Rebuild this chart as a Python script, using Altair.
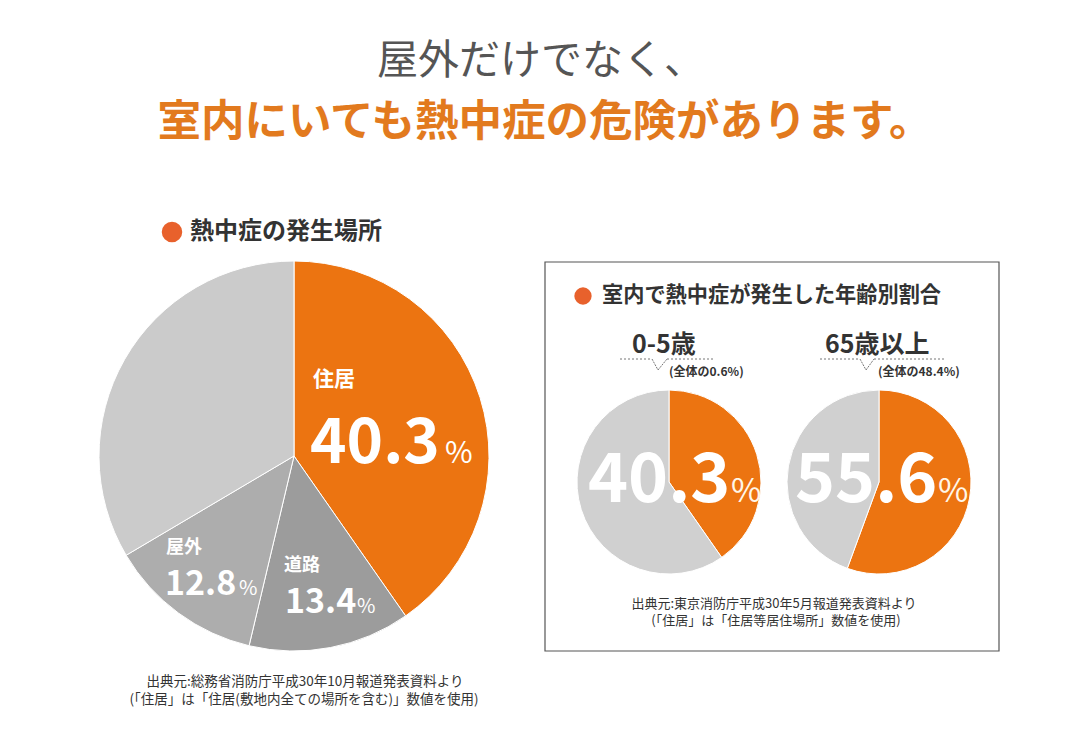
import altair as alt
import pandas as pd

# ---------------- data ----------------
place_names = ["住居", "道路", "屋外", "その他"]
place_share = [40.3, 13.4, 12.8, 33.5]

age_groups = ["0-5歳", "65歳以上"]
indoor_share = [40.3, 55.6]
non_indoor_share = [59.7, 44.4]
overall_share = [0.6, 48.4]

title_line1 = "屋外だけでなく、"
title_line2 = "室内にいても熱中症の危険があります。"
left_heading = "熱中症の発生場所"
right_heading = "室内で熱中症が発生した年齢別割合"
left_source = ["出典元:総務省消防庁平成30年10月報道発表資料より",
               "(「住居」は「住居(敷地内全ての場所を含む)」数値を使用)"]
right_source = ["出典元:東京消防庁平成30年5月報道発表資料より",
                "(「住居」は「住居等居住場所」数値を使用)"]

# ---------------- style ----------------
JP = "Noto Sans CJK JP"
TITLE_ORANGE = "#E27A1E"
DOT = "#E8612C"
place_colors = ["#EC7411", "#9C9C9C", "#ADADAD", "#CBCBCB"]
small_colors = ["#EC7411", "#D0D0D0"]
OFF = 8  # page margin


def X(v):
    return alt.value(v - OFF)


def Y(v):
    return alt.value(v - OFF)


def text(t, x, y, size, color="#333333", weight="bold", align="left",
         baseline="middle", font=JP):
    return alt.Chart(pd.DataFrame({"t": [t]})).mark_text(
        fontSize=size, color=color, fontWeight=weight, align=align,
        baseline=baseline, font=font
    ).encode(text="t:N", x=X(x), y=Y(y))


def pie(names, values, colors, cx, cy, r):
    df = pd.DataFrame({"name": names, "value": values,
                       "idx": list(range(len(names)))})
    return alt.Chart(df).mark_arc(radius=r, stroke="white", strokeWidth=1).encode(
        theta=alt.Theta("value:Q", stack=True),
        color=alt.Color("name:N", scale=alt.Scale(domain=names, range=colors),
                        legend=None),
        order=alt.Order("idx:Q", sort="ascending"),
        x=X(cx), y=Y(cy),
    )


def rule(x1, y1, x2, y2, color="#777777", dash=(2, 2), width=1):
    return alt.Chart(pd.DataFrame({"a": [0]})).mark_rule(
        color=color, strokeDash=list(dash), strokeWidth=width
    ).encode(x=X(x1), x2=X(x2), y=Y(y1), y2=Y(y2))


def dot(x, y, size):
    return alt.Chart(pd.DataFrame({"a": [0]})).mark_circle(
        size=size, color=DOT, opacity=1
    ).encode(x=X(x), y=Y(y))


layers = []

# titles
layers.append(text(title_line1, 541, 62, 41, color="#555555", weight="normal",
                   align="center"))
layers.append(text(title_line2, 545, 123, 43.5, color=TITLE_ORANGE, weight="bold",
                   align="center"))

# left heading
layers.append(dot(172, 232, 420))
layers.append(text(left_heading, 190, 232, 24))

# big pie
layers.append(pie(place_names, place_share, place_colors, 294, 456, 195))

# big pie labels
layers.append(text(place_names[0], 313, 380, 21, color="white"))
layers.append(text(f"{place_share[0]}", 310, 463, 62, color="white",
                   baseline="alphabetic"))
layers.append(text("%", 445, 463, 30, color="white", weight="normal",
                   baseline="alphabetic"))

layers.append(text(place_names[1], 284, 566, 18, color="white"))
layers.append(text(f"{place_share[1]}", 285, 613, 34, color="white",
                   baseline="alphabetic"))
layers.append(text("%", 357, 613, 20, color="white", weight="normal",
                   baseline="alphabetic"))

layers.append(text(place_names[2], 166, 548, 18, color="white"))
layers.append(text(f"{place_share[2]}", 165, 595, 34, color="white",
                   baseline="alphabetic"))
layers.append(text("%", 239, 595, 20, color="white", weight="normal",
                   baseline="alphabetic"))

# left source
layers.append(text(left_source[0], 305, 682, 13.5, align="center", weight="normal"))
layers.append(text(left_source[1], 304, 700, 13.5, align="center", weight="normal"))

# right box
layers.append(alt.Chart(pd.DataFrame({"a": [0]})).mark_rect(
    fill="white", fillOpacity=0, stroke="#555555", strokeWidth=1.2
).encode(x=X(545), x2=X(999), y=Y(262), y2=Y(651)))

layers.append(dot(583, 296, 300))
layers.append(text(right_heading, 602, 296, 21.2))

# age group headings + dashed callouts
centers = [669, 879]
label_x = [632, 825]
dash_specs = [
    (620, 652, 658, 667, 713),
    (820, 860, 866, 874, 946),
]
note_x = [669, 878]
num_x = [588, 795]
pct_x = [731, 938]
for i in range(2):
    layers.append(text(age_groups[i], label_x[i], 345, 25))
    a, b, c, d, e = dash_specs[i]
    layers.append(rule(a, 359, b, 359))
    layers.append(rule(b, 359, c, 370, dash=(2, 1)))
    layers.append(rule(c, 370, d, 359, dash=(2, 1)))
    layers.append(rule(d, 359, e, 359))
    layers.append(text(f"(全体の{overall_share[i]}%)", note_x[i], 372, 12))
    layers.append(pie(["室内", "その他"], [indoor_share[i], non_indoor_share[i]],
                      small_colors, centers[i], 482, 92))
    layers.append(text(f"{indoor_share[i]}", num_x[i], 502, 68, color="white",
                       baseline="alphabetic"))
    layers.append(text("%", pct_x[i], 502, 33, color="#FFF7E8", weight="normal",
                       baseline="alphabetic"))

# right source
layers.append(text(right_source[0], 774, 604, 13, align="center", weight="normal"))
layers.append(text(right_source[1], 776, 621, 13, align="center", weight="normal"))

chart = alt.layer(*layers).resolve_scale(
    theta="independent", color="independent"
).properties(
    width=1080 - 2 * OFF, height=740 - 2 * OFF, padding=0, autosize="none",
    background="white"
).configure_view(stroke=None)

chart.save("out.html", embed_options={"renderer": "svg", "actions": False})
